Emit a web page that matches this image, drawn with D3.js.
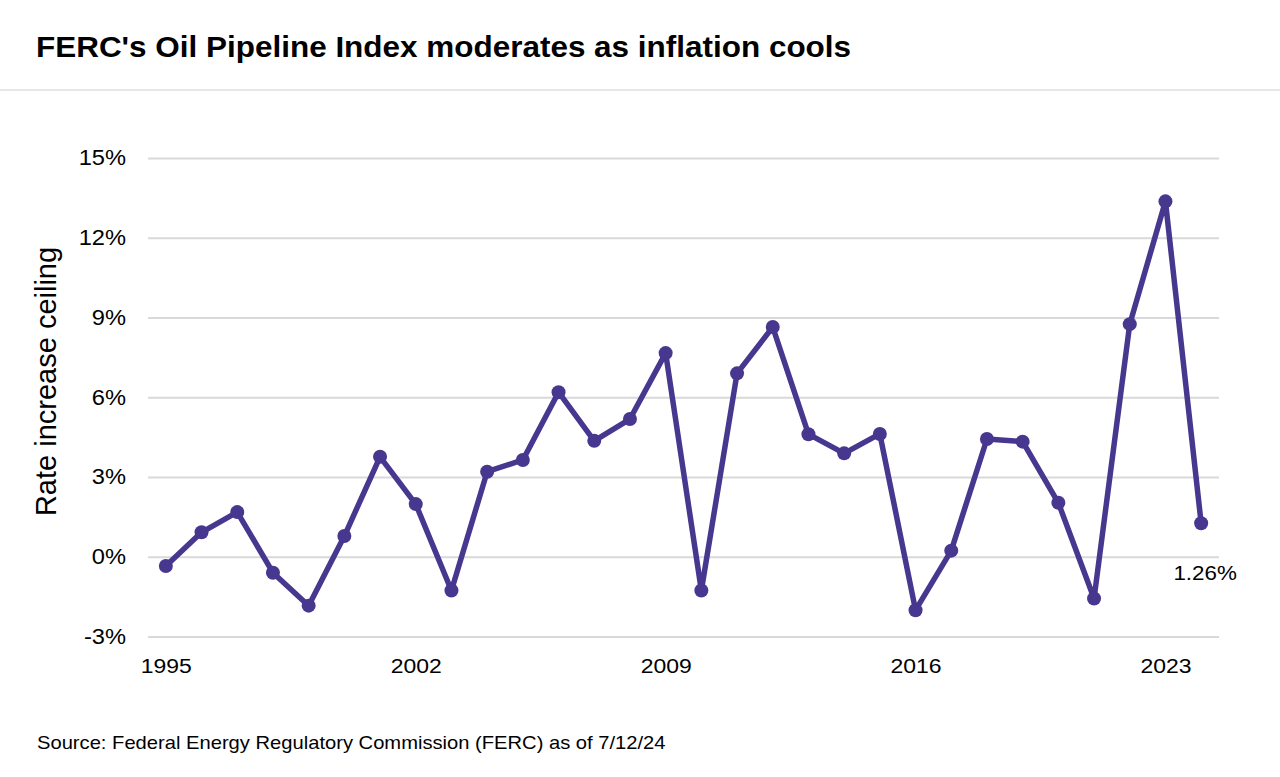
<!DOCTYPE html>
<html>
<head>
<meta charset="utf-8">
<script src="https://cdn.jsdelivr.net/npm/d3@7"></script>
<style>
  html, body { margin: 0; padding: 0; background: #fff; }
  svg { display: block; font-family: "Liberation Sans", Arial, Helvetica, sans-serif; }
</style>
</head>
<body>
<svg id="chart" width="1280" height="777"></svg>
<script>
const years = [1995,1996,1997,1998,1999,2000,2001,2002,2003,2004,2005,2006,2007,2008,2009,2010,
               2011,2012,2013,2014,2015,2016,2017,2018,2019,2020,2021,2022,2023,2024];
const rates = [-0.35,0.92,1.68,-0.60,-1.84,0.78,3.76,1.98,-1.27,3.20,3.64,6.19,4.36,5.18,7.66,-1.27,
               6.90,8.64,4.61,3.89,4.62,-2.01,0.23,4.43,4.33,2.03,-1.57,8.75,13.37,1.26];
const yTicks = [-3,0,3,6,9,12,15];
const xTicks = [1995,2002,2009,2016,2023];
const titleText = "FERC's Oil Pipeline Index moderates as inflation cools";
const yAxisTitle = "Rate increase ceiling";
const sourceText = "Source: Federal Energy Regulatory Commission (FERC) as of 7/12/24";
const lastLabel = "1.26%";

(function () {
const data = years.map((yr, i) => ({ year: yr, value: rates[i] }));
const svg = d3.select("#chart");
const color = "#47378f";
const stretch = (ax, ay, s) => `translate(${ax},${ay}) scale(${s},1) translate(${-ax},${-ay})`;

const pLeft = 148, pRight = 1219, pTop = 158, pBottom = 636.5;
const x = d3.scaleLinear().domain([1994.5, 2024.5]).range([pLeft, pRight]);
const y = d3.scaleLinear().domain([-3, 15]).range([pBottom, pTop]);

// Title
svg.append("text").attr("x", 36).attr("y", 57)
  .attr("font-size", 29).attr("font-weight", "bold").attr("fill", "#000")
  .attr("transform", stretch(36, 57, 1.085))
  .text(titleText);
svg.append("line").attr("x1", 0).attr("x2", 1280).attr("y1", 90).attr("y2", 90)
  .attr("stroke", "#e6e6e6").attr("stroke-width", 2);

// Y axis with gridlines
const yPad = 22;
const yAxis = d3.axisLeft(y).tickValues(yTicks).tickSize(-(pRight - pLeft)).tickPadding(yPad)
  .tickFormat(d => d + "%");
const gy = svg.append("g").attr("transform", `translate(${pLeft},0)`).call(yAxis);
gy.select(".domain").remove();
gy.selectAll(".tick line").attr("stroke", "#d9d9d9").attr("stroke-width", 2);
gy.selectAll(".tick text").attr("font-size", 21.5).attr("fill", "#000")
  .attr("font-family", "Liberation Sans, Arial, sans-serif")
  .attr("transform", stretch(-yPad, 0, 1.1));

// X axis
const xPad = 22;
const xAxis = d3.axisBottom(x).tickValues(xTicks).tickSize(0).tickPadding(xPad).tickFormat(d3.format("d"));
const gx = svg.append("g").attr("transform", `translate(0,${pBottom})`).call(xAxis);
gx.select(".domain").remove();
gx.selectAll(".tick text").attr("font-size", 20.5).attr("fill", "#000")
  .attr("font-family", "Liberation Sans, Arial, sans-serif")
  .attr("transform", stretch(0, 0, 1.12));

// Y axis title
svg.append("text").attr("transform", `translate(56,381.5) rotate(-90)`)
  .attr("text-anchor", "middle").attr("font-size", 29).attr("fill", "#000")
  .text(yAxisTitle);

// Line
const line = d3.line().x(d => x(d.year)).y(d => y(d.value));
svg.append("path").datum(data).attr("d", line)
  .attr("fill", "none").attr("stroke", color).attr("stroke-width", 5.5)
  .attr("stroke-linejoin", "round");
svg.append("g").selectAll("circle").data(data).join("circle")
  .attr("cx", d => x(d.year)).attr("cy", d => y(d.value)).attr("r", 7)
  .attr("fill", color);

// Last label
const last = data[data.length - 1];
const lx = x(last.year) + 4, ly = y(last.value) + 57;
svg.append("text").attr("x", lx).attr("y", ly)
  .attr("text-anchor", "middle").attr("font-size", 20).attr("fill", "#000")
  .attr("transform", stretch(lx, ly, 1.12))
  .text(lastLabel);

// Source
svg.append("text").attr("x", 37).attr("y", 749).attr("font-size", 18).attr("fill", "#000")
  .attr("transform", stretch(37, 749, 1.12))
  .text(sourceText);
})();
</script>
</body>
</html>
